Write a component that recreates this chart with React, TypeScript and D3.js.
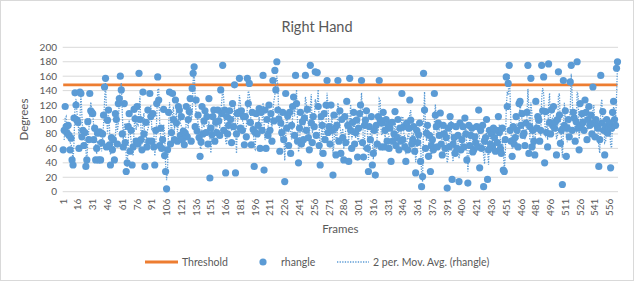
import React from "react";
import { scaleBand, scaleLinear, line } from "d3";

// rhangle readings, one row per 15 frames (frames 1..564)
const rhangle: number[] = [
  58, 85, 118, 90, 81, 92, 78, 58, 74, 44, 37, 102, 137, 120, 99,
  96, 60, 138, 136, 76, 85, 64, 82, 35, 44, 97, 72, 136, 112, 110,
  108, 72, 88, 44, 60, 81, 44, 83, 44, 68, 80, 106, 145, 157, 62,
  99, 113, 65, 37, 75, 58, 72, 44, 108, 100, 66, 122, 129, 160, 141,
  80, 62, 122, 68, 28, 40, 90, 108, 56, 85, 37, 62, 114, 101, 70,
  118, 66, 164, 100, 72, 58, 138, 80, 35, 96, 62, 113, 70, 136, 104,
  70, 108, 62, 37, 85, 122, 159, 127, 64, 88, 60, 72, 114, 50, 28,
  4, 58, 110, 138, 66, 82, 136, 100, 72, 127, 95, 70, 118, 113, 78,
  104, 72, 84, 65, 81, 118, 76, 100, 111, 129, 70, 143, 164, 173, 90,
  127, 84, 106, 75, 49, 69, 118, 80, 98, 112, 82, 104, 66, 129, 19,
  88, 79, 104, 113, 70, 96, 82, 113, 98, 78, 141, 108, 175, 85, 113,
  26, 104, 80, 92, 112, 100, 68, 122, 90, 148, 26, 80, 108, 110, 157,
  88, 112, 85, 104, 65, 104, 76, 157, 122, 150, 96, 65, 110, 86, 35,
  82, 108, 80, 92, 115, 60, 110, 85, 161, 30, 113, 60, 100, 78, 120,
  85, 108, 70, 154, 98, 168, 141, 180, 113, 101, 56, 95, 82, 110, 72,
  14, 136, 88, 105, 64, 110, 53, 92, 118, 131, 78, 161, 122, 70, 40,
  88, 110, 66, 97, 72, 102, 161, 85, 114, 75, 58, 175, 95, 68, 104,
  90, 166, 78, 165, 118, 64, 37, 104, 92, 53, 108, 72, 120, 154, 82,
  90, 66, 120, 85, 23, 106, 88, 51, 92, 154, 70, 112, 53, 100, 75,
  44, 104, 68, 125, 92, 42, 157, 85, 60, 96, 110, 66, 82, 99, 48,
  88, 108, 120, 154, 68, 48, 92, 99, 112, 60, 28, 90, 72, 104, 37,
  53, 85, 23, 92, 66, 104, 154, 99, 62, 95, 110, 62, 85, 100, 70,
  92, 60, 88, 42, 96, 70, 80, 111, 64, 75, 100, 58, 88, 70, 136,
  72, 90, 62, 42, 95, 58, 88, 127, 99, 66, 72, 90, 56, 26, 85,
  68, 79, 95, 42, 7, 21, 164, 113, 60, 81, 92, 49, 78, 28, 64,
  72, 58, 136, 106, 90, 62, 95, 78, 109, 66, 51, 92, 80, 60, 75,
  5, 88, 62, 104, 92, 17, 66, 75, 53, 90, 60, 78, 14, 95, 58,
  72, 90, 62, 102, 80, 44, 12, 92, 64, 78, 88, 55, 58, 76, 68,
  90, 62, 113, 33, 85, 60, 92, 7, 70, 75, 100, 17, 58, 85, 66,
  80, 62, 88, 75, 56, 85, 68, 104, 82, 60, 53, 88, 30, 28, 72,
  159, 118, 150, 175, 85, 70, 49, 90, 66, 75, 104, 85, 62, 122, 125,
  92, 108, 78, 81, 64, 95, 110, 175, 53, 90, 157, 62, 85, 70, 51,
  125, 88, 104, 99, 70, 85, 175, 112, 159, 40, 111, 82, 62, 177, 96,
  80, 113, 92, 118, 88, 97, 51, 100, 166, 106, 67, 85, 10, 154, 92,
  112, 49, 88, 100, 76, 152, 175, 85, 110, 102, 70, 97, 180, 88, 58,
  122, 92, 108, 96, 85, 127, 110, 72, 100, 118, 92, 106, 80, 145, 95,
  76, 100, 92, 88, 35, 72, 161, 95, 111, 85, 51, 90, 100, 81, 88,
  95, 33, 88, 110, 125, 100, 92, 171, 180
];

const THRESHOLD = 148;
const yTicks = [0, 20, 40, 60, 80, 100, 120, 140, 160, 180, 200];
const frames = rhangle.map((_, i) => i + 1);
const xTickFrames = frames.filter(f => (f - 1) % 15 === 0);

const BLUE = "#5B9BD5";
const ORANGE = "#ED7D31";
const GRID = "#D9D9D9";
const TEXT = "#595959";
const FONT = "Lato, 'Open Sans', sans-serif";

export default function App() {
  const W = 634;
  const H = 281;
  const LEFT = 62.7;
  const RIGHT = 618;
  const TOP = 47.3;
  const BOTTOM = 191.7;

  const xScale = scaleBand<number>().domain(frames).range([LEFT, RIGHT]);
  const cx = (f: number) => xScale(f)! + xScale.bandwidth() / 2;
  const yScale = scaleLinear().domain([0, 200]).range([BOTTOM, TOP]);

  // 2 per. moving average, as Excel draws it (starts at the 2nd point)
  const movAvg: [number, number][] = rhangle
    .slice(1)
    .map((v, i) => [frames[i + 1], (v + rhangle[i]) / 2]);

  const avgLine = line<[number, number]>()
    .x(d => cx(d[0]))
    .y(d => yScale(d[1]));

  const thresholdLine = line<number>()
    .x(f => cx(f))
    .y(() => yScale(THRESHOLD));

  return (
    <svg
      width={W}
      height={H}
      style={{ position: "absolute", left: 0, top: 0, background: "#fff" }}
      fontFamily={FONT}
    >
      <rect x={0.5} y={0.5} width={W - 1} height={H - 1} fill="#fff" stroke={GRID} />
      <text x={317} y={32} textAnchor="middle" fontSize={14.5} fill={TEXT}>
        Right Hand
      </text>

      {/* grid */}
      {yTicks.map(v => (
        <g key={v}>
          <line x1={LEFT} x2={RIGHT} y1={yScale(v)} y2={yScale(v)} stroke={GRID} strokeWidth={1} />
          <text x={57} y={yScale(v)} dy="0.35em" textAnchor="end" fontSize={10} fill={TEXT}>
            {v}
          </text>
        </g>
      ))}

      {/* x ticks */}
      {xTickFrames.map(f => (
        <text
          key={f}
          transform={`translate(${cx(f) + 3.5}, ${BOTTOM + 7}) rotate(-90)`}
          textAnchor="end"
          fontSize={10}
          fill={TEXT}
        >
          {f}
        </text>
      ))}

      <text
        transform={`translate(28, ${(TOP + BOTTOM) / 2}) rotate(-90)`}
        textAnchor="middle"
        fontSize={11.5}
        fill={TEXT}
      >
        Degrees
      </text>
      <text x={(LEFT + RIGHT) / 2} y={233} textAnchor="middle" fontSize={11.5} fill={TEXT}>
        Frames
      </text>

      {/* series */}
      <path d={thresholdLine(frames)!} stroke={ORANGE} strokeWidth={2.8} fill="none" />
      {rhangle.map((v, i) => (
        <circle key={i} cx={cx(frames[i])} cy={yScale(v)} r={3.6} fill={BLUE} />
      ))}
      <path
        d={avgLine(movAvg)!}
        stroke={BLUE}
        strokeWidth={1.3}
        strokeDasharray="1.3 1.3"
        fill="none"
      />

      {/* legend */}
      <g fontSize={10.5} fill={TEXT}>
        <line x1={145} x2={178} y1={262} y2={262} stroke={ORANGE} strokeWidth={2.8} />
        <text x={182} y={262} dy="0.35em">Threshold</text>
        <circle cx={263} cy={262} r={3.6} fill={BLUE} />
        <text x={281} y={262} dy="0.35em">rhangle</text>
        <line x1={337} x2={369} y1={262} y2={262} stroke={BLUE} strokeWidth={1.3} strokeDasharray="1.3 1.3" />
        <text x={373} y={262} dy="0.35em">2 per. Mov. Avg. (rhangle)</text>
      </g>
    </svg>
  );
}
